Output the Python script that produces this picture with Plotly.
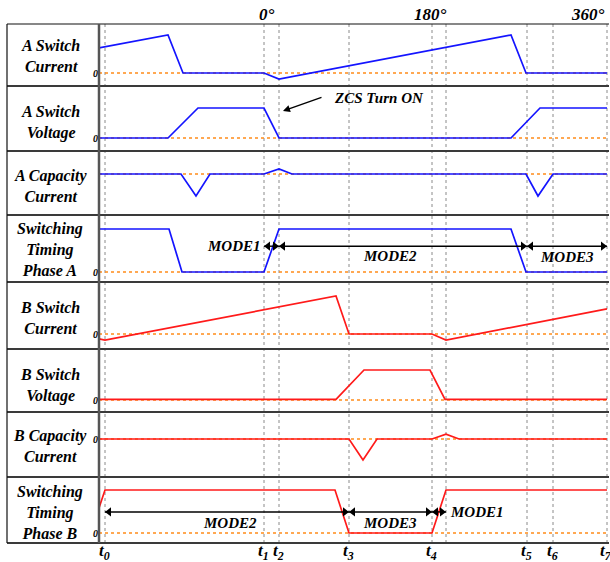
import plotly.graph_objects as go
from plotly.subplots import make_subplots

# ---------------- data (time in arbitrary units, 0..508) ----------------
t_marks = [6, 165, 180, 250, 333, 347, 428, 454, 508]   # dashed event lines
t_labels = ["t<sub>0</sub>", "t<sub>1</sub>", "t<sub>2</sub>", "t<sub>3</sub>",
            "t<sub>4</sub>", "", "t<sub>5</sub>", "t<sub>6</sub>", "t<sub>7</sub>"]

row_titles = ["A Switch<br>Current", "A Switch<br>Voltage", "A Capacity<br>Current",
              "Switching<br>Timing<br>Phase A", "B Switch<br>Current", "B Switch<br>Voltage",
              "B Capacity<br>Current", "Switching<br>Timing<br>Phase B"]

a_cur_t = [0, 69, 84, 165, 180, 412, 427, 508]
a_cur_v = [0.66, 1.0, 0, 0, -0.16, 1.0, 0, 0]

a_vol_t = [0, 69, 99, 165, 180, 412, 441, 508]
a_vol_v = [0, 0, 1, 1, 0, 0, 1, 1]

a_cap_t = [0, 82, 97, 111, 165, 180, 193, 427, 439, 454, 508]
a_cap_v = [0, 0, -1, 0, 0, 0.23, 0, 0, -1, 0, 0]

a_tim_t = [0, 70, 83, 165, 180, 412, 427, 508]
a_tim_v = [1, 1, 0, 0, 1, 1, 0, 0]

b_cur_t = [0, 6, 237, 250, 333, 347, 508]
b_cur_v = [-0.13, -0.16, 1.0, 0, 0, -0.16, 0.66]

b_vol_t = [0, 237, 265, 331, 346, 508]
b_vol_v = [0.02, 0.02, 1, 1, 0.02, 0.02]

b_cap_t = [0, 250, 264, 278, 333, 347, 360, 508]
b_cap_v = [0, 0, -1, 0, 0, 0.23, 0, 0]

b_tim_t = [0, 6, 236, 250, 333, 347, 508]
b_tim_v = [0.58, 1, 1, 0, 0, 1, 1]

# operating modes: (name, start mark index, end mark index)
modes_a = [("MODE1", 1, 2), ("MODE2", 2, 6), ("MODE3", 6, 8)]
modes_b = [("MODE2", 0, 3), ("MODE3", 3, 4), ("MODE1", 4, 5)]

series = [(a_cur_t, a_cur_v), (a_vol_t, a_vol_v), (a_cap_t, a_cap_v), (a_tim_t, a_tim_v),
          (b_cur_t, b_cur_v), (b_vol_t, b_vol_v), (b_cap_t, b_cap_v), (b_tim_t, b_tim_v)]
colors = ["#1414ff"] * 4 + ["#ff1a1a"] * 4

# ---------------- layout geometry (pixels) ----------------
W, H = 610, 562
L, R, T, B = 99, 609, 24, 543
bounds = [24, 86, 151, 215, 282, 349, 412, 477, 543]
zero_px = [73, 138, 174, 272, 334, 400, 439, 533]
scale_px = [38, 30, 22, 43, 38, 30, 21, 43]
label_cy = [56, 123, 186, 250, 318, 385, 446, 512]


def py(p):  # pixel y -> paper y
    return (B - p) / (B - T)


def px(p):  # pixel x -> paper x
    return (p - L) / (R - L)


fig = make_subplots(rows=8, cols=1, shared_xaxes=True, vertical_spacing=0)

serif = "Liberation Serif"
bi = dict(family=serif, color="black", weight="bold", style="italic")

for i, ((tt, vv), c) in enumerate(zip(series, colors)):
    r = i + 1
    # zero reference (orange dotted)
    fig.add_trace(go.Scatter(x=[0, 508], y=[0, 0], mode="lines",
                             line=dict(color="#ff8c1a", width=1.6, dash="dot"),
                             hoverinfo="skip", showlegend=False), row=r, col=1)
    fig.add_trace(go.Scatter(x=tt, y=vv, mode="lines",
                             line=dict(color=c, width=1.7),
                             showlegend=False), row=r, col=1)
    top, bot = bounds[i], bounds[i + 1]
    z, s = zero_px[i], scale_px[i]
    yname = "yaxis" if r == 1 else f"yaxis{r}"
    fig.layout[yname].update(
        domain=[py(bot), py(top)],
        range=[-(bot - z) / s, (z - top) / s],
        showgrid=False, zeroline=False, showline=False,
        tickvals=[0], ticktext=["0"], ticks="", ticklen=0,
        showticklabels=(i != 2),
        tickfont=dict(size=10, **bi), fixedrange=True)

for r in range(1, 9):
    xname = "xaxis" if r == 1 else f"xaxis{r}"
    fig.layout[xname].update(range=[0, 510], showgrid=False, zeroline=False,
                             showline=False, showticklabels=False, ticks="",
                             fixedrange=True)


# mode double arrows drawn as line + triangle heads
def add_mode_arrows(modes, row, yv):
    for name, a, b in modes:
        x0, x1 = t_marks[a], t_marks[b]
        fig.add_trace(go.Scatter(x=[x0, x1], y=[yv, yv], mode="lines",
                                 line=dict(color="black", width=1.4),
                                 hoverinfo="skip", showlegend=False), row=row, col=1)
        fig.add_trace(go.Scatter(x=[x0 + 4, x1 - 4], y=[yv, yv], mode="markers",
                                 marker=dict(symbol=["triangle-left", "triangle-right"],
                                             size=8, color="black", line=dict(width=0)),
                                 hoverinfo="skip", showlegend=False), row=row, col=1)


add_mode_arrows(modes_a, 4, 0.6)
add_mode_arrows(modes_b, 8, 0.49)

shapes = []
# dashed event lines
for t in t_marks:
    shapes.append(dict(type="line", xref="x", yref="paper", x0=t, x1=t, y0=0, y1=1,
                       line=dict(color="#8a8a8a", width=1, dash="3px,3px"), layer="below"))
# row separators
for j, b in enumerate(bounds):
    shapes.append(dict(type="line", xref="paper", yref="paper", x0=px(7), x1=px(609),
                       y0=py(b), y1=py(b),
                       line=dict(color="#111" if j == 0 else "#3a3a3a",
                                 width=1.2 if j == 0 else 1.8)))
# outer left border and plot left axis
shapes.append(dict(type="line", xref="paper", yref="paper", x0=px(7), x1=px(7),
                   y0=0, y1=1, line=dict(color="#111", width=1.2)))
shapes.append(dict(type="line", xref="paper", yref="paper", x0=0, x1=0,
                   y0=0, y1=1, line=dict(color="#555", width=2.5)))
fig.update_layout(shapes=shapes)

ann = []
# row titles
for txt, cy in zip(row_titles, label_cy):
    ann.append(dict(text=txt, xref="paper", yref="paper", x=px(50), y=py(cy),
                    xanchor="center", yanchor="middle", showarrow=False,
                    font=dict(size=16, **bi)))
# bottom time labels
for t, lab in zip(t_marks, t_labels):
    if lab:
        ann.append(dict(text=lab, xref="x", yref="paper", x=t - 1, y=py(552),
                        xanchor="center", yanchor="middle", showarrow=False,
                        font=dict(size=17, **bi)))
# top phase labels
ann.append(dict(text="0°", xref="x", yref="paper", x=168, y=py(14), xanchor="center",
                yanchor="middle", showarrow=False, font=dict(size=17, **bi)))
ann.append(dict(text="180°", xref="x", yref="paper", x=331, y=py(14), xanchor="center",
                yanchor="middle", showarrow=False, font=dict(size=17, **bi)))
ann.append(dict(text="360°", xref="x", yref="paper", x=508, y=py(14), xanchor="right",
                yanchor="middle", showarrow=False, font=dict(size=17, **bi)))

# ZCS annotation (row 2)
ann.append(dict(text="ZCS Turn ON", xref="x2", yref="y2", x=233, y=1.33,
                xanchor="left", yanchor="middle", showarrow=False,
                font=dict(size=15, **bi)))
ann.append(dict(text="", xref="x2", yref="y2", x=184, y=0.9, axref="x2", ayref="y2",
                ax=224, ay=1.37, showarrow=True, arrowhead=2, arrowsize=1,
                arrowwidth=1.4, arrowcolor="black", standoff=0, startstandoff=0))

# mode texts
ann.append(dict(text="MODE1", xref="x4", yref="y4", x=164, y=0.6, xanchor="right",
                yanchor="middle", showarrow=False, font=dict(size=15, **bi)))
ann.append(dict(text="MODE2", xref="x4", yref="y4", x=291, y=0.37, xanchor="center",
                yanchor="middle", showarrow=False, font=dict(size=15, **bi)))
ann.append(dict(text="MODE3", xref="x4", yref="y4", x=468, y=0.35, xanchor="center",
                yanchor="middle", showarrow=False, font=dict(size=15, **bi)))
ann.append(dict(text="MODE2", xref="x8", yref="y8", x=131, y=0.23, xanchor="center",
                yanchor="middle", showarrow=False, font=dict(size=15, **bi)))
ann.append(dict(text="MODE3", xref="x8", yref="y8", x=291, y=0.23, xanchor="center",
                yanchor="middle", showarrow=False, font=dict(size=15, **bi)))
ann.append(dict(text="MODE1", xref="x8", yref="y8", x=349, y=0.49, xanchor="left",
                yanchor="middle", showarrow=False, font=dict(size=15, **bi)))

fig.update_layout(annotations=ann, width=W, height=H,
                  margin=dict(l=L, r=W - R, t=T, b=H - B, pad=0),
                  paper_bgcolor="white", plot_bgcolor="white",
                  font=dict(family=serif), showlegend=False)

fig.write_html("out.html", config={"displayModeBar": False},
               post_script="document.body.style.margin='0';"
                           "document.body.style.overflow='hidden';")
